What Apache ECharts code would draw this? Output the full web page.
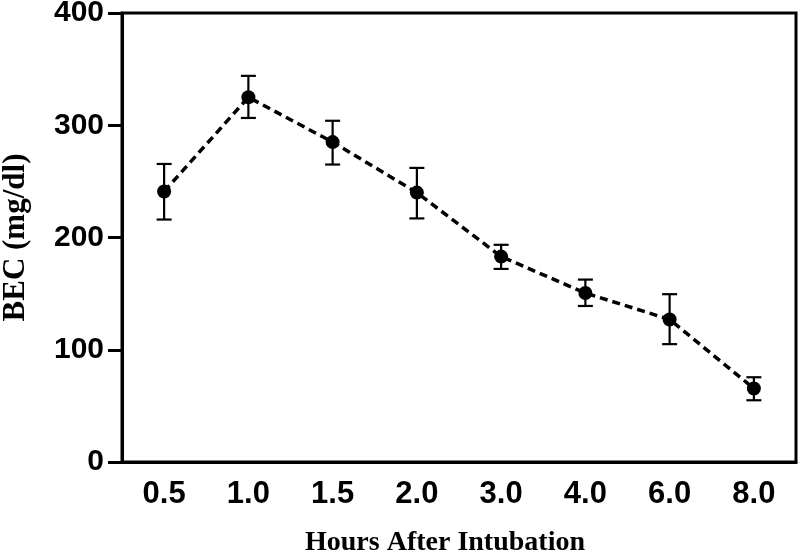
<!DOCTYPE html>
<html>
<head>
<meta charset="utf-8">
<script src="https://cdn.jsdelivr.net/npm/echarts@6/dist/echarts.min.js"></script>
<style>
html,body{margin:0;padding:0;background:#fff;}
#chart{width:800px;height:555px;}
</style>
</head>
<body>
<div id="chart"></div>
<script>
var categories = ['0.5','1.0','1.5','2.0','3.0','4.0','6.0','8.0'];
var means = [241, 325, 285, 240, 183, 150.5, 127, 65.5];
var lower = [216, 306.5, 265, 217, 172, 139, 105, 55];
var upper = [265.5, 344, 304, 262, 193.5, 162.5, 149.5, 75.5];
var yTicks = [0, 100, 200, 300, 400];

var errData = categories.map(function(c, i){ return [i, lower[i], upper[i]]; });

var chart = echarts.init(document.getElementById('chart'));
chart.setOption({
  animation: false,
  backgroundColor: '#fff',
  grid: {left: 122, right: 4, top: 13, bottom: 93, containLabel: false, outerBoundsMode: 'none', show: true, borderColor: '#000', borderWidth: 3, backgroundColor: 'transparent'},
  xAxis: {
    type: 'category',
    data: categories,
    boundaryGap: true,
    axisLine: {lineStyle: {color: '#000', width: 3}},
    axisTick: {alignWithLabel: true, length: 14, lineStyle: {color: '#000', width: 3}},
    axisLabel: {color: '#000', fontFamily: 'Liberation Sans', fontWeight: 'bold', fontSize: 31, margin: 17},
    name: 'Hours After Intubation',
    nameLocation: 'middle',
    nameGap: 67,
    nameTextStyle: {color: '#000', fontFamily: 'Liberation Serif', fontWeight: 'bold', fontSize: 28, padding: [0, 28, 0, 0]}
  },
  yAxis: {
    type: 'value',
    min: yTicks[0], max: yTicks[yTicks.length - 1], interval: 100,
    splitLine: {show: false},
    axisLine: {show: true, lineStyle: {color: '#000', width: 3}},
    axisTick: {show: true, length: 14, lineStyle: {color: '#000', width: 3}},
    axisLabel: {color: '#000', fontFamily: 'Liberation Sans', fontWeight: 'bold', fontSize: 30, margin: 18},
    name: 'BEC (mg/dl)',
    nameLocation: 'middle',
    nameGap: 91,
    nameTextStyle: {color: '#000', fontFamily: 'Liberation Serif', fontWeight: 'bold', fontSize: 31}
  },
  series: [
    {
      type: 'custom',
      data: errData,
      z: 2,
      renderItem: function(params, api){
        var x = api.value(0);
        var lo = api.coord([x, api.value(1)]);
        var hi = api.coord([x, api.value(2)]);
        var hw = 7.5;
        var st = {stroke: '#000', lineWidth: 2.2, fill: null};
        return {type: 'group', children: [
          {type: 'line', shape: {x1: lo[0], y1: lo[1], x2: hi[0], y2: hi[1]}, style: st},
          {type: 'line', shape: {x1: lo[0]-hw, y1: lo[1], x2: lo[0]+hw, y2: lo[1]}, style: st},
          {type: 'line', shape: {x1: hi[0]-hw, y1: hi[1], x2: hi[0]+hw, y2: hi[1]}, style: st}
        ]};
      }
    },
    {
      type: 'line',
      data: means,
      z: 3,
      symbol: 'circle',
      symbolSize: 14,
      itemStyle: {color: '#000'},
      lineStyle: {color: '#000', width: 3.5, type: [8, 5]}
    }
  ]
});
</script>
</body>
</html>
